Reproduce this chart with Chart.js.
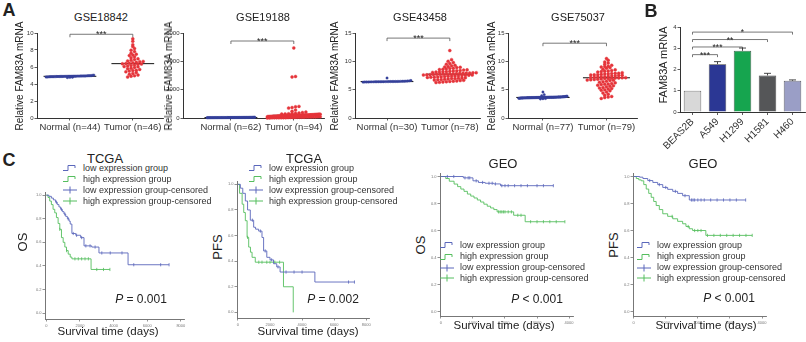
<!DOCTYPE html>
<html>
<head>
<meta charset="utf-8">
<script src="https://cdn.jsdelivr.net/npm/chart.js@4.4.0/dist/chart.umd.min.js"></script>
<style>
html, body { margin: 0; padding: 0; background: #fff; }
#fig { position: relative; width: 806px; height: 342px; overflow: hidden; background: #fff;
       font-family: "Liberation Sans", Arial, sans-serif; color: #222; }
#fig canvas { position: absolute; }
.t { position: absolute; white-space: nowrap; line-height: 1; transform: translate(-50%, -50%); }
.t.rot { transform: translate(-50%, -50%) rotate(-90deg); }
.t.b { font-weight: bold; }
.lg { position: absolute; display: flex; align-items: center; height: 9px; font-size: 9px;
      color: #333; white-space: nowrap; line-height: 1; }
.lg svg { margin-right: 6px; }
</style>
</head>
<body>
<div id="fig"></div>
<script>
// ---------- A: dot plots ----------
const catsGSE18842 = ['Normal (n=44)', 'Tumor (n=46)'];
const normalGSE18842 = [4.92, 4.88, 4.95, 4.90, 4.86, 4.93, 4.97, 4.89, 4.91, 4.84,
  4.95, 4.99, 4.87, 4.90, 4.93, 4.82, 4.88, 4.96, 4.91, 4.85,
  4.94, 4.89, 5.02, 4.78, 4.92, 4.87, 4.90, 4.95, 4.83, 4.91,
  4.88, 4.97, 4.86, 4.93, 5.05, 4.80, 4.90, 4.94, 4.89, 4.92,
  4.86, 4.98, 4.75, 4.91];
const tumorGSE18842 = [9.31, 9.02, 8.63, 8.41, 8.18, 7.98, 7.82, 7.63, 7.51, 7.34,
  7.22, 7.08, 6.97, 6.88, 6.79, 6.71, 6.63, 6.55, 6.49, 6.44,
  6.41, 6.38, 6.35, 6.31, 6.24, 6.18, 6.12, 6.03, 5.94, 5.86,
  5.79, 5.71, 5.62, 5.53, 5.44, 5.36, 5.25, 5.14, 5.06, 4.98,
  4.91, 4.82, 6.66, 6.05, 5.58, 7.41];
const ticksGSE18842 = [0, 2, 4, 6, 8, 10];

const catsGSE19188 = ['Normal (n=62)', 'Tumor (n=94)'];
const normalGSE19188 = [32, 28, 41, 25, 36, 30, 44, 22, 38, 27,
  33, 47, 29, 35, 24, 40, 31, 26, 52, 34,
  29, 37, 23, 43, 31, 28, 39, 33, 21, 46,
  30, 35, 27, 42, 25, 38, 32, 29, 48, 26,
  34, 31, 36, 24, 40, 28, 33, 55, 30, 27,
  37, 22, 35, 29, 44, 31, 26, 39, 33, 18,
  30, 36];
const tumorGSE19188 = [4950, 2930, 2900, 820, 790, 740, 700, 560, 470, 420,
  385, 352, 331, 318, 301, 288, 281, 270, 266, 257,
  253, 246, 243, 236, 233, 229, 227, 222, 219, 215,
  213, 210, 207, 206, 203, 201, 200, 198, 198, 196,
  195, 194, 193, 192, 191, 190, 189,
  187, 184, 180, 177, 171, 169, 163, 158, 157, 151,
  146, 143, 139, 131, 128, 126, 119, 114, 112, 105,
  101, 98, 93, 87, 85, 79, 74, 71, 66, 62,
  57, 55, 49, 46, 41, 37, 34, 30, 26, 23,
  19, 17, 14, 11, 9, 6, 4];
const ticksGSE19188 = [0, 2000, 4000, 6000];

const catsGSE43458 = ['Normal (n=30)', 'Tumor (n=78)'];
const normalGSE43458 = [6.42, 6.38, 6.45, 6.40, 6.36, 6.48, 6.43, 6.39, 6.52, 6.41,
  6.35, 6.46, 6.44, 6.37, 6.50, 6.42, 6.33, 6.47, 6.40, 6.55,
  6.38, 6.44, 6.62, 6.41, 6.36, 6.49, 6.43, 7.05, 6.39, 6.45];
const tumorGSE43458 = [11.9, 10.3, 10.0, 9.8, 9.6, 9.5, 9.3, 9.2, 9.1, 9.0,
  8.95, 8.9, 8.8, 8.75, 8.7, 8.6, 8.55, 8.5, 8.45, 8.4,
  8.35, 8.3, 8.25, 8.2, 8.15, 8.1, 8.05, 8.0, 7.98, 7.95,
  7.92, 7.9, 7.88, 7.85, 7.82, 7.8, 7.78, 7.75, 7.72, 7.7,
  7.68, 7.65, 7.62, 7.6, 7.58, 7.55, 7.5, 7.45, 7.42, 7.4,
  7.35, 7.32, 7.3, 7.25, 7.2, 7.18, 7.15, 7.1, 7.05, 7.0,
  6.98, 6.95, 6.9, 6.85, 6.8, 6.75, 6.7, 6.65, 6.6, 6.55,
  6.5, 6.45, 6.4, 6.35, 6.3, 6.25, 8.12, 7.56];

const catsGSE75037 = ['Normal (n=77)', 'Tumor (n=79)'];
const normalGSE75037 = [3.62, 3.58, 3.70, 3.55, 3.66, 3.74, 3.60, 3.52, 3.68, 3.64,
  3.57, 3.72, 3.61, 3.49, 3.66, 3.78, 3.59, 3.63, 3.54, 3.70,
  3.65, 3.82, 3.56, 3.61, 3.68, 3.47, 3.64, 3.73, 3.58, 3.62,
  3.69, 3.53, 3.66, 3.60, 3.76, 3.57, 3.63, 3.44, 3.67, 3.61,
  3.71, 3.55, 3.64, 3.86, 3.59, 3.62, 3.68, 3.51, 3.65, 3.60,
  3.74, 3.56, 3.63, 3.41, 3.69, 3.58, 3.66, 3.92, 3.61, 3.54,
  3.67, 3.62, 3.79, 3.57, 3.64, 3.36, 3.70, 3.60, 3.65, 4.58,
  3.59, 3.63, 4.12, 3.55, 3.66, 3.62, 3.71];
const tumorGSE75037 = [10.5, 10.2, 9.9, 9.7, 9.5, 9.3, 9.1, 9.0, 8.9, 8.8,
  8.6, 8.5, 8.4, 8.3, 8.2, 8.1, 8.0, 7.9, 7.85, 7.8,
  7.75, 7.7, 7.65, 7.6, 7.55, 7.5, 7.45, 7.4, 7.35, 7.3,
  7.25, 7.2, 7.15, 7.12, 7.1, 7.08, 7.05, 7.0, 6.95, 6.9,
  6.85, 6.8, 6.75, 6.7, 6.6, 6.5, 6.4, 6.3, 6.2, 6.1,
  6.0, 5.9, 5.8, 5.7, 5.6, 5.5, 5.4, 5.3, 5.2, 5.1,
  5.0, 4.9, 4.8, 4.6, 4.4, 4.2, 4.0, 3.8, 3.6, 3.45,
  7.62, 7.28, 6.98, 8.25, 5.95, 7.88, 6.65, 9.15, 3.7];
const ticks15 = [0, 5, 10, 15];

// ---------- B: bar chart ----------
const cellLines = ['BEAS2B', 'A549', 'H1299', 'H1581', 'H460'];
const barMeans  = [1.0, 2.25, 2.88, 1.72, 1.47];
const barErr    = [0, 0.12, 0.13, 0.1, 0.04];
const barTicks  = [0, 1, 2, 3, 4];
const sigPairsB = [[0, 1], [0, 2], [0, 3], [0, 4]];
const sigTextB  = ['***', '***', '**', '*'];
const sigLevelB = [2.7, 3.06, 3.41, 3.76];

// ---------- C: Kaplan-Meier ----------
const kmLegend = ['low expression group', 'high expression group',
  'low expression group-censored', 'high expression group-censored'];
const kmYTicks = [0, 0.2, 0.4, 0.6, 0.8, 1.0];
const tcgaTicks = [0, 2000, 4000, 6000, 8000];
const geoTicks  = [0, 1000, 2000, 3000, 4000];

const tcgaOsLowT  = [0, 150, 300, 420, 550, 650, 750, 850, 950, 1050, 1150, 1250, 1350, 1420, 1520, 1750, 2040, 2240, 2700, 3130, 4860];
const tcgaOsLowS  = [1, 0.99, 0.975, 0.96, 0.94, 0.92, 0.9, 0.88, 0.86, 0.84, 0.82, 0.8, 0.78, 0.755, 0.675, 0.66, 0.64, 0.57, 0.56, 0.51, 0.41];
const tcgaOsLowC  = [600, 900, 1100, 1300, 1600, 1800, 2100, 2350, 2600, 2900, 3300, 3800, 4500, 5200, 6800, 7300];
const tcgaOsHighT = [0, 100, 200, 300, 400, 500, 600, 700, 800, 900, 1000, 1100, 1200, 1300, 1420, 1520, 2660];
const tcgaOsHighS = [1, 0.98, 0.95, 0.92, 0.88, 0.85, 0.81, 0.76, 0.71, 0.64, 0.6, 0.56, 0.53, 0.5, 0.475, 0.46, 0.37];
const tcgaOsHighC = [800, 1200, 1700, 1900, 2100, 2300, 2500, 3000, 3400, 3780];

const tcgaPfsLowT  = [0, 150, 300, 460, 600, 770, 980, 1100, 1290, 1500, 1600, 1800, 2000, 2220, 2420, 2630, 4800];
const tcgaPfsLowS  = [1, 0.97, 0.93, 0.87, 0.8, 0.72, 0.665, 0.65, 0.635, 0.585, 0.48, 0.43, 0.41, 0.38, 0.355, 0.315, 0.237];
const tcgaPfsLowC  = [900, 1400, 1700, 2100, 2500, 3000, 3500, 4000, 6900, 7270];
const tcgaPfsHighT = [0, 100, 260, 360, 460, 570, 670, 780, 880, 1080, 2840, 3450];
const tcgaPfsHighS = [1, 0.93, 0.845, 0.78, 0.716, 0.586, 0.51, 0.47, 0.43, 0.392, 0.2, 0];
const tcgaPfsHighC = [600, 1300, 1500, 1800, 2000, 2300, 2600];

const geoOsLowT  = [0, 700, 1000, 1170, 1380, 1650, 1860];
const geoOsLowS  = [1, 0.99, 0.968, 0.956, 0.95, 0.945, 0.932];
const geoOsLowC  = [200, 400, 750, 850, 900, 1100, 1300, 1500, 1600, 1700, 1900, 2000, 2100, 2300, 2500, 2700, 3000, 3200, 3510];
const geoOsHighT = [0, 150, 260, 410, 520, 620, 720, 825, 930, 1032, 1135, 1238, 1340, 1445, 1550, 1651, 1754, 2270, 2630];
const geoOsHighS = [1, 0.985, 0.965, 0.944, 0.925, 0.907, 0.89, 0.87, 0.855, 0.841, 0.826, 0.811, 0.795, 0.78, 0.767, 0.755, 0.738, 0.713, 0.665];
const geoOsHighC = [1800, 1850, 1900, 1950, 2000, 2100, 2200, 2400, 2500, 2800, 3000, 3200, 3400, 3600, 3870];

const geoPfsLowT  = [0, 186, 289, 440, 598, 750, 907, 1060, 1217, 1370, 1527, 1734];
const geoPfsLowS  = [1, 0.995, 0.985, 0.97, 0.956, 0.94, 0.919, 0.905, 0.89, 0.875, 0.858, 0.826];
const geoPfsLowC  = [500, 800, 1000, 1300, 1600, 1800, 1850, 1900, 2000, 2100, 2200, 2400, 2600, 2800, 3000, 3200, 3490];
const geoPfsHighT = [0, 83, 160, 237, 315, 392, 470, 547, 625, 702, 800, 907, 1060, 1217, 1370, 1527, 1630, 1734, 1837, 2250];
const geoPfsHighS = [1, 0.985, 0.975, 0.968, 0.94, 0.907, 0.875, 0.846, 0.815, 0.785, 0.755, 0.724, 0.705, 0.687, 0.668, 0.65, 0.63, 0.613, 0.6, 0.564];
const geoPfsHighC = [1200, 1700, 1900, 2000, 2100, 2300, 2500, 2700, 2900, 3100, 3300, 3500, 3694];

// ---------- helpers ----------
const FONT = '"Liberation Sans", Arial, sans-serif';
Chart.defaults.font.family = FONT;
Chart.defaults.color = '#333';

const BLUE_DOT = '#34409a', RED_DOT = '#e5343a';
const KM_LOW = '#5a67bb', KM_HIGH = '#55be5e';
const barColors = ['#d8d8d8', '#2b3794', '#16a54f', '#555658', '#9a9ec6'];

const fig = document.getElementById('fig');

function mount(area, pad) {
  const c = document.createElement('canvas');
  const w = Math.round(area.r - area.l) + pad.l + pad.r;
  const h = Math.round(area.b - area.t) + pad.t + pad.b;
  c.width = w; c.height = h;
  c.style.left = (Math.round(area.l) - pad.l) + 'px';
  c.style.top  = (Math.round(area.t) - pad.t) + 'px';
  c.style.width = w + 'px'; c.style.height = h + 'px';
  fig.appendChild(c);
  return c;
}

function yLin(min, max, vals, w, size, col, fmt) {
  return {
    type: 'linear', position: 'left', min, max,
    afterBuildTicks: s => { s.ticks = vals.map(v => ({ value: v })); },
    afterFit: s => { s.width = w; s.paddingTop = 0; s.paddingBottom = 0; },
    grid: { drawOnChartArea: false, drawTicks: true, tickLength: 2.5, color: col, lineWidth: 0.8 },
    border: { display: true, color: col, width: 1 },
    ticks: { font: { size }, color: col, padding: 1, callback: fmt || (v => String(v)) },
  };
}

function xLin(min, max, vals, h, size, col, fmt) {
  return {
    type: 'linear', position: 'bottom', min, max,
    afterBuildTicks: s => { s.ticks = vals.map(v => ({ value: v })); },
    afterFit: s => { s.height = h; s.paddingLeft = 0; s.paddingRight = 0; },
    grid: { drawOnChartArea: false, drawTicks: true, tickLength: 2.5, color: col, lineWidth: 0.8 },
    border: { display: true, color: col, width: 1 },
    ticks: { font: { size }, color: col, padding: 1.5, maxRotation: 0, autoSkip: false, callback: fmt || (v => String(v)) },
  };
}

function baseOpts(pad, scales, plugins) {
  return {
    responsive: false, animation: false, devicePixelRatio: 1,
    layout: { padding: { left: 0, top: pad.t, right: pad.r, bottom: 0 } },
    plugins: Object.assign({ legend: { display: false }, tooltip: { enabled: false } }, plugins || {}),
    scales,
  };
}

// significance brackets (A and B)
const sigPlugin = {
  id: 'sig',
  afterDatasetsDraw(chart, args, opts) {
    if (!opts.items) return;
    const { ctx, scales: { x, y } } = chart;
    ctx.save();
    ctx.strokeStyle = '#555'; ctx.lineWidth = 0.8; ctx.fillStyle = '#222';
    ctx.font = `${opts.size || 9}px ${FONT}`;
    ctx.textAlign = 'center';
    opts.items.forEach(it => {
      const xa = x.getPixelForValue(it.a), xb = x.getPixelForValue(it.b), yy = y.getPixelForValue(it.y);
      ctx.beginPath();
      ctx.moveTo(xa, yy + opts.drop); ctx.lineTo(xa, yy); ctx.lineTo(xb, yy); ctx.lineTo(xb, yy + opts.drop);
      ctx.stroke();
      ctx.fillText(it.text, (xa + xb) / 2, yy + 3);
    });
    ctx.restore();
  },
};

// SEM bars on panel B
const errPlugin = {
  id: 'err',
  afterDatasetsDraw(chart, args, opts) {
    if (!opts.vals) return;
    const { ctx, scales: { y } } = chart;
    const meta = chart.getDatasetMeta(0);
    const data = chart.data.datasets[0].data;
    ctx.save();
    ctx.strokeStyle = '#333'; ctx.lineWidth = 0.9;
    meta.data.forEach((bar, i) => {
      if (!opts.vals[i]) return;
      const top = y.getPixelForValue(data[i] + opts.vals[i]);
      ctx.beginPath();
      ctx.moveTo(bar.x, bar.y); ctx.lineTo(bar.x, top);
      ctx.moveTo(bar.x - 3.5, top); ctx.lineTo(bar.x + 3.5, top);
      ctx.stroke();
    });
    ctx.restore();
  },
};
Chart.register(sigPlugin, errPlugin);

function median(a) {
  const s = [...a].sort((p, q) => p - q), m = s.length >> 1;
  return s.length % 2 ? s[m] : (s[m - 1] + s[m]) / 2;
}

// deterministic beeswarm: values sharing a row are spread sideways
function swarm(vals, cx, bin, dx, maxHalf) {
  const rows = new Map();
  [...vals].sort((a, b) => a - b).forEach(v => {
    const k = Math.round(v / bin);
    if (!rows.has(k)) rows.set(k, []);
    rows.get(k).push(v);
  });
  const pts = [];
  rows.forEach(list => {
    const n = list.length;
    const step = n > 1 ? Math.min(dx, (2 * maxHalf) / (n - 1)) : 0;
    list.forEach((v, i) => pts.push({ x: cx + (i - (n - 1) / 2) * step, y: v }));
  });
  return pts;
}

function medLine(vals, cx, half) {
  const m = median(vals);
  return { data: [{ x: cx - half, y: m }, { x: cx + half, y: m }], showLine: true,
           borderColor: '#111', borderWidth: 1, pointRadius: 0, clip: false };
}

function dotPlot(area, cfg) {
  const pad = { l: cfg.yw, t: 8, r: 4, b: 20 };
  const c = mount(area, pad);
  const datasets = [
    { data: swarm(cfg.normal, 1, cfg.bin, 0.04, 0.38), backgroundColor: BLUE_DOT, borderColor: BLUE_DOT,
      pointRadius: 1.2, borderWidth: 0.4, clip: false },
    { data: swarm(cfg.tumor, 2, cfg.bin, 0.055, 0.42), backgroundColor: RED_DOT, borderColor: RED_DOT,
      pointRadius: 1.5, borderWidth: 0.4, clip: false },
    medLine(cfg.normal, 1, 0.42),
    medLine(cfg.tumor, 2, cfg.half || 0.34),
  ];
  new Chart(c, {
    type: 'scatter',
    data: { datasets },
    options: baseOpts(pad, {
      x: xLin(cfg.xmin, 2.49, [1, 2], pad.b, 9.5, '#333', v => cfg.cats[v - 1]),
      y: yLin(0, cfg.ymax, cfg.yticks, pad.l, 6, '#333'),
    }, { sig: { items: [{ a: 1, b: 2, y: cfg.sigY, text: '***' }], drop: 3, size: 9 } }),
  });
}

function kmLine(ts, ss, cs, col) {
  const pts = ts.map((t, i) => ({ x: t, y: ss[i] }));
  const end = Math.max(ts[ts.length - 1], ...cs);
  pts.push({ x: end, y: ss[ss.length - 1] });
  return { data: pts, showLine: true, stepped: true, borderColor: col, borderWidth: 0.9, pointRadius: 0, clip: false };
}

function kmCens(ts, ss, cs, col) {
  const pts = cs.map(c => {
    let s = ss[0];
    ts.forEach((t, i) => { if (t <= c) s = ss[i]; });
    return { x: c, y: s };
  });
  return { data: pts, pointStyle: 'line', pointRotation: 90, pointRadius: 1.6, pointBorderWidth: 0.8,
           borderColor: col, backgroundColor: col, clip: false };
}

function kmPlot(area, cfg) {
  const pad = { l: 12, t: 4, r: 4, b: 9 };
  const c = mount(area, pad);
  new Chart(c, {
    type: 'scatter',
    data: { datasets: [
      kmLine(cfg.lowT, cfg.lowS, cfg.lowC, KM_LOW),
      kmLine(cfg.highT, cfg.highS, cfg.highC, KM_HIGH),
      kmCens(cfg.lowT, cfg.lowS, cfg.lowC, KM_LOW),
      kmCens(cfg.highT, cfg.highS, cfg.highC, KM_HIGH),
    ] },
    options: baseOpts(pad, {
      x: xLin(cfg.xmin, cfg.xmax, cfg.xticks, pad.b, 4, '#777'),
      y: yLin(cfg.ymin, 1.02, kmYTicks, pad.l, 4, '#777', v => v.toFixed(1)),
    }),
  });
}

function txt(html, x, y, size, cls) {
  const d = document.createElement('div');
  d.className = 't' + (cls ? ' ' + cls : '');
  d.style.left = x + 'px'; d.style.top = y + 'px'; d.style.fontSize = size + 'px';
  d.innerHTML = html;
  fig.appendChild(d);
}

function kmLegendAt(x, rows) {
  const cols = [KM_LOW, KM_HIGH, KM_LOW, KM_HIGH];
  kmLegend.forEach((name, i) => {
    const d = document.createElement('div');
    d.className = 'lg';
    d.style.left = x + 'px'; d.style.top = (rows[i] - 4.5) + 'px';
    const path = i < 2 ? 'M0 6.5H5V1.5H12V4' : 'M0 4H14M7 0.5V7.5';
    d.innerHTML = `<svg width="14" height="8"><path d="${path}" fill="none" stroke="${cols[i]}" stroke-width="1"/></svg><span>${name}</span>`;
    fig.appendChild(d);
  });
}

// ---------- draw A ----------
dotPlot({ l: 37, t: 33, r: 164, b: 118 }, { cats: catsGSE18842, normal: normalGSE18842, tumor: tumorGSE18842,
  xmin: 0.476, ymax: 10, yticks: ticksGSE18842, yw: 14, bin: 0.31, sigY: 9.85 });
dotPlot({ l: 183, t: 33, r: 325, b: 118 }, { cats: catsGSE19188, normal: normalGSE19188, tumor: tumorGSE19188,
  xmin: 0.238, ymax: 6000, yticks: ticksGSE19188, yw: 20, bin: 184, sigY: 5435 });
dotPlot({ l: 355, t: 33, r: 481, b: 118 }, { cats: catsGSE43458, normal: normalGSE43458, tumor: tumorGSE43458,
  xmin: 0.49, ymax: 15, yticks: ticks15, yw: 14, bin: 0.46, sigY: 14.1, half: 0.37 });
dotPlot({ l: 508, t: 33, r: 638, b: 118 }, { cats: catsGSE75037, normal: normalGSE75037, tumor: tumorGSE75037,
  xmin: 0.45, ymax: 15, yticks: ticks15, yw: 14, bin: 0.46, sigY: 13.2, half: 0.37 });

// ---------- draw B ----------
(() => {
  const pad = { l: 34, t: 8, r: 1, b: 40 };
  const c = mount({ l: 680, t: 26.7, r: 805, b: 111.7 }, pad);
  new Chart(c, {
    type: 'bar',
    data: { labels: cellLines, datasets: [{ data: barMeans, backgroundColor: barColors, borderColor: '#3a3a3a',
      borderWidth: 0.8, barPercentage: 0.7, categoryPercentage: 1 }] },
    options: baseOpts(pad, {
      x: { type: 'category',
           afterFit: s => { s.height = pad.b; s.paddingLeft = 0; s.paddingRight = 0; },
           grid: { display: true, offset: false, drawOnChartArea: false, drawTicks: true, tickLength: 3, color: '#333', lineWidth: 0.8 },
           border: { display: true, color: '#333', width: 1 },
           ticks: { minRotation: 45, maxRotation: 45, autoSkip: false, font: { size: 10 }, color: '#333', padding: 1 } },
      y: yLin(0, 4, barTicks, pad.l, 6, '#333'),
    }, {
      sig: { items: sigPairsB.map((p, i) => ({ a: p[0], b: p[1], y: sigLevelB[i], text: sigTextB[i] })), drop: 2.5, size: 8.5 },
      err: { vals: barErr },
    }),
  });
})();

// ---------- draw C ----------
kmPlot({ l: 44.6, t: 191.6, r: 185, b: 319 }, { xmin: -80, xmax: 8200, ymin: -0.05, xticks: tcgaTicks,
  lowT: tcgaOsLowT, lowS: tcgaOsLowS, lowC: tcgaOsLowC, highT: tcgaOsHighT, highS: tcgaOsHighS, highC: tcgaOsHighC });
kmPlot({ l: 236.7, t: 180.7, r: 370, b: 318 }, { xmin: -60, xmax: 8190, ymin: -0.044, xticks: tcgaTicks,
  lowT: tcgaPfsLowT, lowS: tcgaPfsLowS, lowC: tcgaPfsLowC, highT: tcgaPfsHighT, highS: tcgaPfsHighS, highC: tcgaPfsHighC });
kmPlot({ l: 439.7, t: 173, r: 574.1, b: 316.2 }, { xmin: -30, xmax: 4130, ymin: -0.033, xticks: geoTicks,
  lowT: geoOsLowT, lowS: geoOsLowS, lowC: geoOsLowC, highT: geoOsHighT, highS: geoOsHighS, highC: geoOsHighC });
kmPlot({ l: 633.4, t: 173, r: 767.4, b: 316.2 }, { xmin: -20, xmax: 4130, ymin: -0.033, xticks: geoTicks,
  lowT: geoPfsLowT, lowS: geoPfsLowS, lowC: geoPfsLowC, highT: geoPfsHighT, highS: geoPfsHighS, highC: geoPfsHighC });

// ---------- text ----------
txt('A', 9, 10, 18, 'b');
txt('B', 651, 11, 18, 'b');
txt('C', 9, 160, 18, 'b');

txt('GSE18842', 101, 17, 11);
txt('GSE19188', 263, 17, 11);
txt('GSE43458', 420, 17, 11);
txt('GSE75037', 578, 17, 11);
[20, 169, 335, 492].forEach(x => txt('Relative FAM83A mRNA', x, 76, 10, 'rot'));
txt('FAM83A mRNA', 663, 65, 11, 'rot');

txt('TCGA', 105, 158, 13);
txt('TCGA', 304, 158, 13);
txt('GEO', 503, 163, 13);
txt('GEO', 703, 163, 13);

txt('OS', 22, 242, 13, 'rot');
txt('PFS', 217, 247, 13, 'rot');
txt('OS', 420, 245, 13, 'rot');
txt('PFS', 613, 245, 13, 'rot');

txt('<i>P</i> = 0.001', 141, 299, 12);
txt('<i>P</i> = 0.002', 333, 299, 12);
txt('<i>P</i> &lt; 0.001', 537, 299, 12);
txt('<i>P</i> &lt; 0.001', 729, 298, 12);

txt('Survival time (days)', 108, 332, 11.5);
txt('Survival time (days)', 308, 332, 11.5);
txt('Survival time (days)', 504, 326, 11.5);
txt('Survival time (days)', 706, 326, 11.5);

kmLegendAt(63, [168, 179, 190, 201]);
kmLegendAt(249, [168, 179, 190, 201]);
kmLegendAt(440, [245, 256.5, 267.5, 278]);
kmLegendAt(637, [245, 256.5, 267.5, 278]);
</script>
</body>
</html>
